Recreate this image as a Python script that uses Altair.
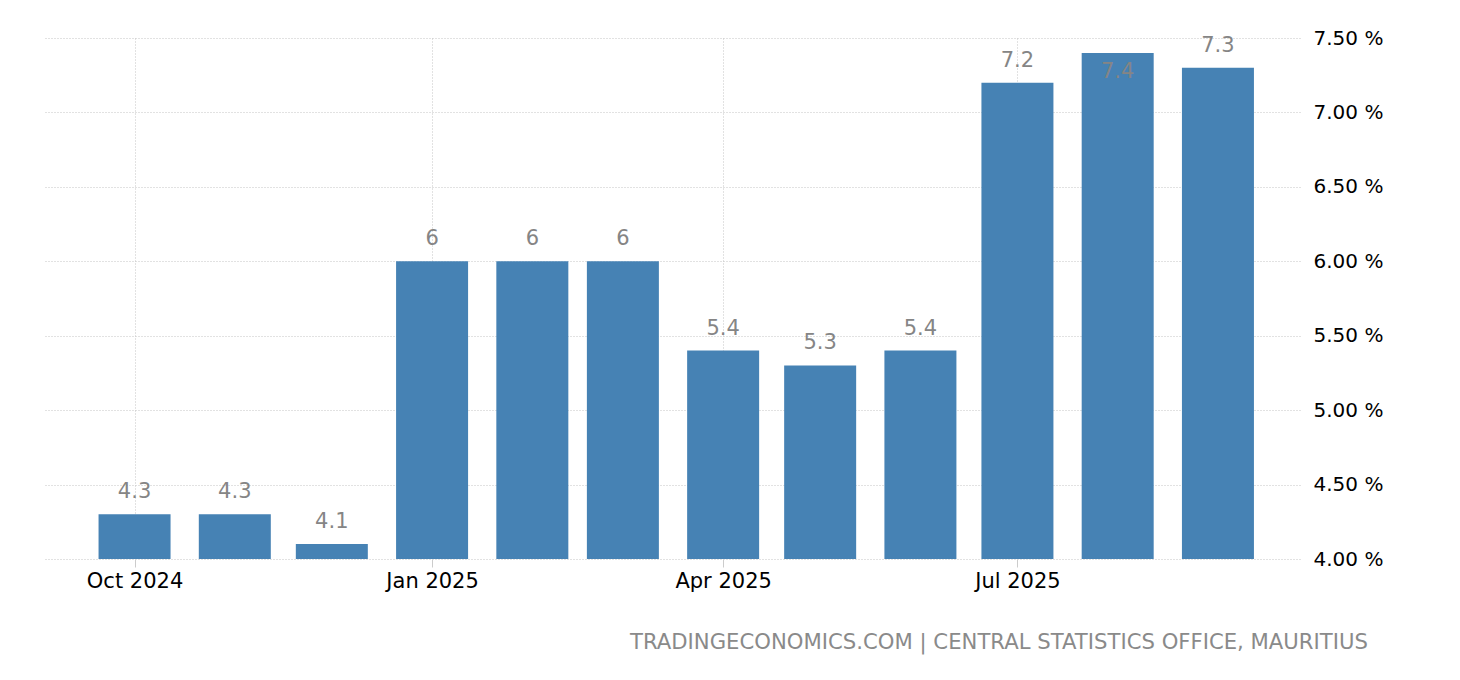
import altair as alt
import pandas as pd

months = ["2024-10-01", "2024-11-01", "2024-12-01", "2025-01-01", "2025-02-01", "2025-03-01",
          "2025-04-01", "2025-05-01", "2025-06-01", "2025-07-01", "2025-08-01", "2025-09-01"]
values = [4.3, 4.3, 4.1, 6.0, 6.0, 6.0, 5.4, 5.3, 5.4, 7.2, 7.4, 7.3]
labels = ["4.3", "4.3", "4.1", "6", "6", "6", "5.4", "5.3", "5.4", "7.2", "7.4", "7.3"]
y_ticks = [4.0, 4.5, 5.0, 5.5, 6.0, 6.5, 7.0, 7.5]
source_text = "TRADINGECONOMICS.COM | CENTRAL STATISTICS OFFICE, MAURITIUS"

df = pd.DataFrame({"date": months, "value": values, "label": labels})

FONT = "DejaVu Sans"
BAR = "#4682b4"
GRID = "#c4c4c4"

x_ticks = [alt.DateTime(year=2024, month=10, date=1, utc=True),
           alt.DateTime(year=2025, month=1, date=1, utc=True),
           alt.DateTime(year=2025, month=4, date=1, utc=True),
           alt.DateTime(year=2025, month=7, date=1, utc=True)]

x = alt.X(
    "date:T",
    scale=alt.Scale(type="utc", padding=0,
                    domain=[alt.DateTime(year=2024, month=9, date=3, utc=True),
                            alt.DateTime(year=2025, month=9, date=26, hours=9, utc=True)]),
    axis=alt.Axis(values=x_ticks, labelExpr="utcFormat(datum.value, '%b %Y')", title=None,
                  domain=False, grid=True, gridColor=GRID, gridDash=[1, 2],
                  ticks=True, tickColor="#cccccc", tickSize=8,
                  labelFont=FONT, labelFontSize=21, labelColor="#000000",
                  labelPadding=3),
)
y = alt.Y(
    "value:Q",
    scale=alt.Scale(domain=[4.0, 7.5], zero=False, nice=False),
    axis=alt.Axis(orient="right", values=y_ticks, title=None, domain=False, ticks=False,
                  grid=True, gridColor=GRID, gridDash=[1, 2],
                  labelExpr="format(datum.value, '.2f') + ' %'",
                  labelFont=FONT, labelFontSize=20, labelColor="#000000",
                  labelPadding=13, labelAlign="left"),
)

base = alt.Chart(df)

bars = base.mark_bar(size=72, color=BAR).encode(x=x, y=y, y2=alt.datum(4.0))

text_above = base.transform_filter("datum.value < 7.35").mark_text(
    font=FONT, fontSize=21, color="#858585", dy=-16, baseline="alphabetic"
).encode(x=x, y=y, text="label:N")

text_inside = base.transform_filter("datum.value >= 7.35").mark_text(
    font=FONT, fontSize=21, color="#858585", dy=25, baseline="alphabetic"
).encode(x=x, y=y, text="label:N")

chart = (bars + text_above + text_inside).properties(
    width=1256,
    height=521,
    autosize=alt.AutoSizeParams(type="none"),
    padding={"left": 36, "top": 30, "right": 150, "bottom": 100},
    background="white",
    title=alt.TitleParams(source_text, orient="bottom", anchor="end", frame="group",
                          dx=68, offset=41, font=FONT, fontSize=21.2, fontWeight="normal",
                          color="#8a8a8a"),
).configure_view(stroke=None)

chart.save("out.html", embed_options={"renderer": "svg", "actions": False})
